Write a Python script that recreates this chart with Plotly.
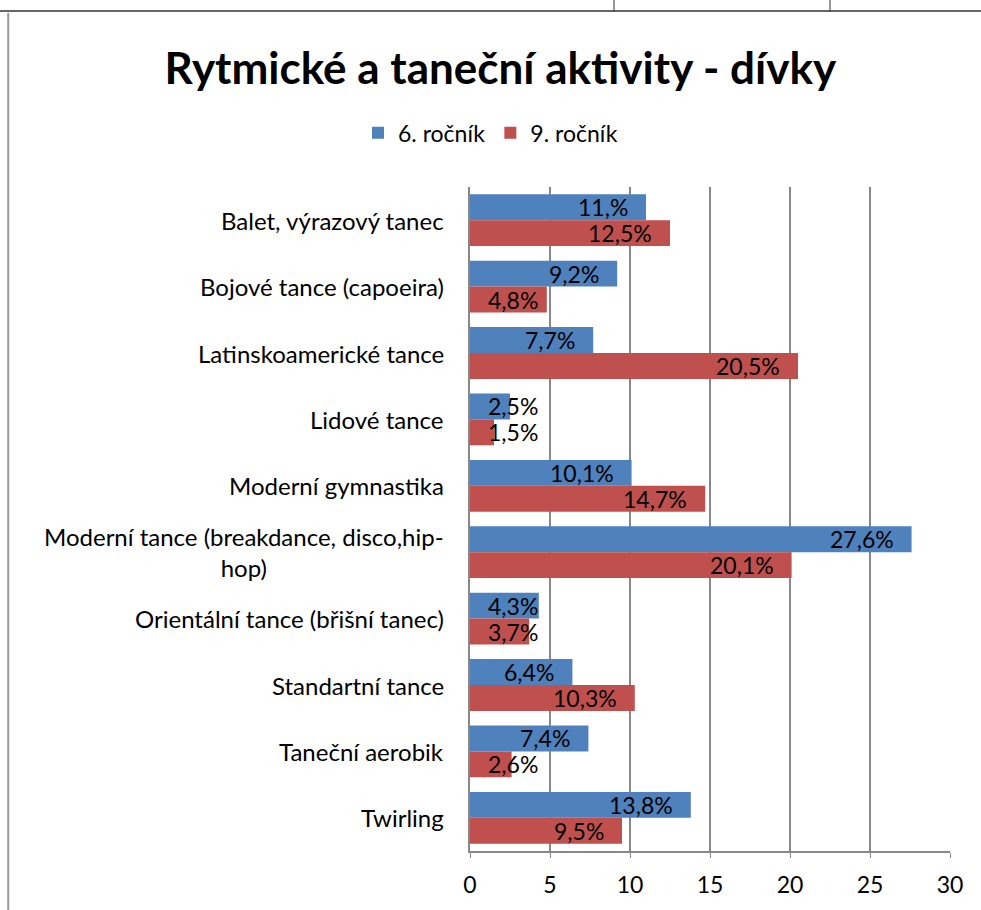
import plotly.graph_objects as go

categories = [
    "Balet, výrazový tanec",
    "Bojové tance (capoeira)",
    "Latinskoamerické tance",
    "Lidové tance",
    "Moderní gymnastika",
    "Moderní tance (breakdance, disco,hip-<br>hop)",
    "Orientální tance (břišní tanec)",
    "Standartní tance",
    "Taneční aerobik",
    "Twirling",
]
grade6 = [11.0, 9.2, 7.7, 2.5, 10.1, 27.6, 4.3, 6.4, 7.4, 13.8]
grade9 = [12.5, 4.8, 20.5, 1.5, 14.7, 20.1, 3.7, 10.3, 2.6, 9.5]
labels6 = ["11,%", "9,2%", "7,7%", "2,5%", "10,1%", "27,6%", "4,3%", "6,4%", "7,4%", "13,8%"]
labels9 = ["12,5%", "4,8%", "20,5%", "1,5%", "14,7%", "20,1%", "3,7%", "10,3%", "2,6%", "9,5%"]
series_names = ["6. ročník", "9. ročník"]
x_ticks = [0, 5, 10, 15, 20, 25, 30]

BLUE = "#4F81BD"
RED = "#C0504D"
FONT = "Lato, 'Open Sans', sans-serif"

fig = go.Figure()
fig.add_trace(go.Bar(y=categories, x=grade6, name=series_names[0], orientation="h",
                     marker=dict(color=BLUE, line=dict(width=0)), hoverinfo="x+y"))
fig.add_trace(go.Bar(y=categories, x=grade9, name=series_names[1], orientation="h",
                     marker=dict(color=RED, line=dict(width=0)), hoverinfo="x+y"))

annotations = []
MIN_LABEL_X = 5.4
for vals, labs, shift in ((grade6, labels6, 13), (grade9, labels9, -13)):
    for c, v, t in zip(categories, vals, labs):
        annotations.append(dict(
            x=max(v, MIN_LABEL_X), y=c, xref="x", yref="y", text=t, showarrow=False,
            xanchor="right", yanchor="middle", xshift=-16, yshift=shift,
            font=dict(family=FONT, size=23, color="black")))
for c in categories:
    annotations.append(dict(
        x=0, y=c, xref="paper", yref="y", text=c, showarrow=False,
        xanchor="right", yanchor="middle", align="center", xshift=-24,
        font=dict(family=FONT, size=24, color="black")))

shapes = [
    dict(type="line", xref="paper", yref="paper", x0=-0.98, x1=1.07, y0=1.265, y1=1.265,
         line=dict(color="#333333", width=1.5)),
    dict(type="line", xref="paper", yref="paper", x0=0.3, x1=0.3, y0=1.265, y1=1.3,
         line=dict(color="#333333", width=1)),
    dict(type="line", xref="paper", yref="paper", x0=0.75, x1=0.75, y0=1.265, y1=1.3,
         line=dict(color="#333333", width=1)),
    dict(type="line", xref="paper", yref="paper", x0=-0.962, x1=-0.962, y0=-0.1, y1=1.262,
         line=dict(color="#999999", width=2)),
]

fig.update_layout(
    width=981, height=910,
    margin=dict(l=470, r=31, t=187, b=59),
    paper_bgcolor="white", plot_bgcolor="white",
    barmode="group", bargap=0.22, bargroupgap=0,
    title=dict(text="<b>Rytmické a taneční aktivity - dívky</b>", x=0.51, xref="container",
               xanchor="center", y=0.925, yanchor="middle", yref="container",
               font=dict(family=FONT, size=44, color="black")),
    legend=dict(orientation="h", x=0.5, xref="container", xanchor="center",
                y=0.854, yref="container", yanchor="middle",
                font=dict(family=FONT, size=23, color="black"),
                itemwidth=30, traceorder="normal"),
    xaxis=dict(range=[0, 30], tickvals=x_ticks, showgrid=True, gridcolor="#888888", gridwidth=1.5,
               showline=True, linecolor="#888888", linewidth=1.5, ticks="outside", ticklen=5,
               tickcolor="#888888", zeroline=False,
               tickfont=dict(family=FONT, size=23, color="black"), ticklabelstandoff=8),
    yaxis=dict(autorange="reversed", showticklabels=False, showline=True, linecolor="#888888",
               linewidth=1.5, ticks="", showgrid=False),
    annotations=annotations,
    shapes=shapes,
    font=dict(family=FONT, color="black"),
)

fig.write_html("out.html", config={"displayModeBar": False},
               post_script="document.body.style.margin='0';document.body.style.overflow='hidden';")
